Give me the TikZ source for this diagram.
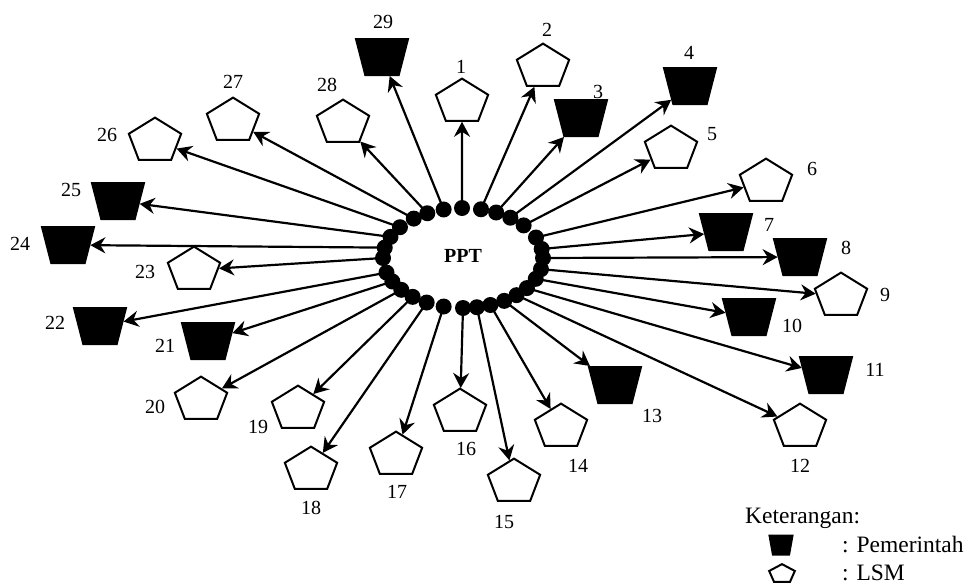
\documentclass[tikz,border=0pt]{standalone}
\usepackage{fontspec}
\setmainfont{Liberation Serif}
\usetikzlibrary{shapes.geometric,arrows.meta}
\begin{document}
\begin{tikzpicture}[x=1pt,y=-1pt,
  pent/.style={regular polygon, regular polygon sides=5, inner sep=0pt, draw, line width=2pt, fill=white, transform shape},
  lsm/.style={pent, minimum size=55pt, yscale=0.85},
  gov/.style={trapezium, shape border rotate=180, trapezium left angle=73, trapezium right angle=73, trapezium stretches=true, minimum width=52pt, minimum height=36pt, inner sep=0pt, draw, fill=black, line width=2pt, font=\tiny},
  rdot/.style={circle, fill=black, inner sep=0pt, minimum size=16pt},
  lbl/.style={font=\fontsize{20}{24}\selectfont, inner sep=0pt},
  legtext/.style={anchor=base west, font=\fontsize{23.5}{28}\selectfont, inner sep=0pt},
  arr/.style={line width=2.2pt, -{Stealth[length=15pt,width=16pt,inset=5pt]}},
]
\useasboundingbox[fill=white] (0,0) rectangle (964,584);

% ring of dots around PPT
\foreach \i/\t in {1/90.7, 2/77, 3/65.5, 4/53.7, 5/40.7, 6/24.2, 7/10.4, 8/0, 9/-12.9, 10/-24.6,
                   11/-37, 12/-48, 13/-59, 14/-70, 15/-80, 16/-90, 17/-104, 18/-117, 19/-129,
                   20/-140.5, 21/-152, 22/-163, 23/180, 24/168, 25/155, 26/142, 27/128, 28/116.5, 29/104}
  \node[rdot] (d\i) at ({463+80*cos(\t)}, {258-50*sin(\t)}) {};

\node[font=\bfseries\fontsize{20}{24}\selectfont, inner sep=0pt] (ppt) at (463,256) {PPT};

% LSM (pentagons)
\foreach \n/\x/\y in {1/462/102, 2/543/67, 5/671/149, 6/766/182, 9/841/296, 12/800/427, 14/561/427,
                      15/514/482, 16/460/412, 17/396/455, 18/311/470, 19/298/409, 20/201/400,
                      23/194/270, 26/155/141, 27/233/121, 28/343/123}
  {\begin{scope}[shift={(\x,\y)}]\node[lsm] (s\n) {};\end{scope}}

% Pemerintah (trapezia)
\foreach \n/\x/\y in {3/581/118, 4/690/86, 7/726/232, 8/800/257, 10/749/317, 11/826/375, 13/615/385,
                      21/208/341, 22/100/326, 24/68/245, 25/118/201, 29/382/57}
  \node[gov] (s\n) at (\x,\y) {\phantom{X}};

% connectors
\foreach \n in {1,...,29}
  \draw[arr] (d\n.center) -- (s\n);

% number labels
\foreach \n/\x/\y in {1/461/67, 2/547/30, 3/598/92, 4/689/53, 5/712/134, 6/812/169, 7/769/225,
                      8/846/248, 9/885/295, 10/792/326, 11/875/370, 12/800/466, 13/652/416,
                      14/578/466, 15/504/522, 16/466/449, 17/397/492, 18/311/508, 19/258/427,
                      20/155/407, 21/165/346, 22/55/323, 23/145/272, 24/20/244, 25/71/190,
                      26/107/135, 27/233/82, 28/327/85, 29/383/22}
  \node[lbl] (l\n) at (\x,\y) {\n};

% legend
\node[legtext] (ket) at (745,523) {Keterangan:};
\node[gov, minimum width=23pt, minimum height=19pt, trapezium left angle=77, trapezium right angle=77] (lgov) at (781,545) {\phantom{X}};
\begin{scope}[shift={(782,574)}]\node[pent, minimum size=27pt, yscale=0.73] (llsm) {};\end{scope}
\node[legtext] (lpem) at (842,552) {: Pemerintah};
\node[legtext] (llsmt) at (842,580) {: LSM};
\end{tikzpicture}
\end{document}
